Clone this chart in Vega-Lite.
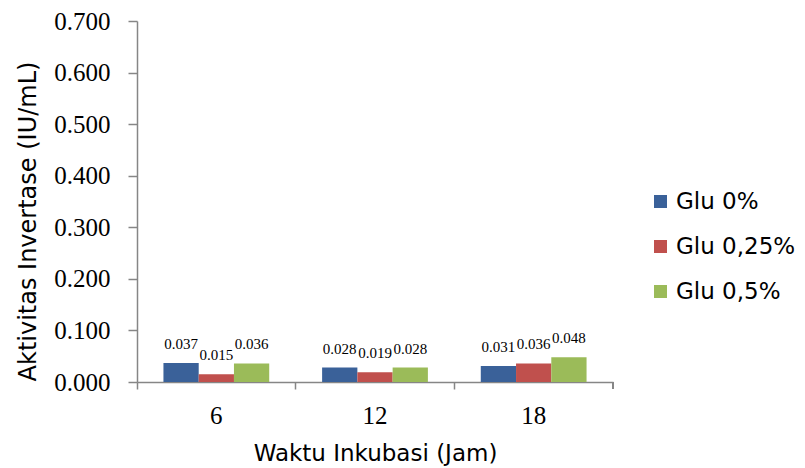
{
  "$schema": "https://vega.github.io/schema/vega-lite/v6.json",
  "width": 476,
  "height": 361,
  "autosize": {"type": "none"},
  "padding": {"left": 137, "top": 21, "right": 192, "bottom": 86},
  "background": "white",
  "config": {"view": {"stroke": null}},
  "data": {
    "values": [
      {"time": 6, "series": "Glu 0%", "value": 0.037},
      {"time": 6, "series": "Glu 0,25%", "value": 0.015},
      {"time": 6, "series": "Glu 0,5%", "value": 0.036},
      {"time": 12, "series": "Glu 0%", "value": 0.028},
      {"time": 12, "series": "Glu 0,25%", "value": 0.019},
      {"time": 12, "series": "Glu 0,5%", "value": 0.028},
      {"time": 18, "series": "Glu 0%", "value": 0.031},
      {"time": 18, "series": "Glu 0,25%", "value": 0.036},
      {"time": 18, "series": "Glu 0,5%", "value": 0.048}
    ]
  },
  "layer": [
    {
      "mark": {"type": "bar"},
      "encoding": {
        "x": {
          "field": "time", "type": "ordinal",
          "scale": {"paddingInner": 0, "paddingOuter": 0},
          "axis": {
            "title": "Waktu Inkubasi (Jam)",
            "titleFont": "DejaVu Sans", "titleFontSize": 23, "titleFontWeight": "normal", "titleColor": "black",
            "titleBaseline": "top", "titleY": 60,
            "labelAngle": 0, "labelFont": "Liberation Serif", "labelFontSize": 25, "labelColor": "black",
            "labelPadding": 14, "labelBaseline": "top",
            "bandPosition": 0, "tickSize": 7, "tickColor": "#868686", "tickWidth": 1.5,
            "domainColor": "#868686", "domainWidth": 1.5, "grid": false
          }
        },
        "xOffset": {
          "field": "series", "type": "nominal",
          "sort": ["Glu 0%", "Glu 0,25%", "Glu 0,5%"],
          "scale": {"paddingOuter": 0.75, "paddingInner": 0}
        },
        "y": {
          "field": "value", "type": "quantitative",
          "scale": {"domain": [0, 0.7], "nice": false},
          "axis": {
            "title": "Aktivitas Invertase (IU/mL)",
            "titleFont": "DejaVu Sans", "titleFontSize": 24, "titleFontWeight": "normal", "titleColor": "black",
            "titleX": -97, "titleY": 200, "titleAngle": -90, "titleBaseline": "bottom",
            "values": [0, 0.1, 0.2, 0.3, 0.4, 0.5, 0.6, 0.7], "format": ".3f",
            "labelFont": "Liberation Serif", "labelFontSize": 25, "labelColor": "black", "labelPadding": 18,
            "tickSize": 9, "tickColor": "#868686", "tickWidth": 1.5,
            "domainColor": "#868686", "domainWidth": 1.5, "grid": false
          }
        },
        "color": {
          "field": "series", "type": "nominal",
          "scale": {"domain": ["Glu 0%", "Glu 0,25%", "Glu 0,5%"], "range": ["#3A6199", "#C0504D", "#9BBB59"]},
          "legend": {
            "title": null, "orient": "none", "legendX": 512, "legendY": 169,
            "symbolType": "square", "symbolSize": 169, "symbolStrokeWidth": 0,
            "labelFont": "DejaVu Sans", "labelFontSize": 23, "labelColor": "black",
            "rowPadding": 21, "labelOffset": 4
          }
        }
      }
    },
    {
      "mark": {"type": "text", "font": "Liberation Serif", "fontSize": 15, "baseline": "alphabetic", "dy": -14, "color": "black"},
      "encoding": {
        "x": {"field": "time", "type": "ordinal", "bandPosition": 0},
        "xOffset": {
          "field": "series", "type": "nominal",
          "sort": ["Glu 0%", "Glu 0,25%", "Glu 0,5%"],
          "scale": {"paddingOuter": 0.75, "paddingInner": 0}
        },
        "y": {"field": "value", "type": "quantitative"},
        "text": {"field": "value", "type": "quantitative", "format": ".3f"}
      }
    },
    {
      "mark": {"type": "rule", "color": "#868686", "strokeWidth": 1.5},
      "encoding": {
        "x": {"datum": 18, "type": "ordinal", "bandPosition": 1, "axis": {
            "title": "Waktu Inkubasi (Jam)",
            "titleFont": "DejaVu Sans", "titleFontSize": 23, "titleFontWeight": "normal", "titleColor": "black",
            "titleBaseline": "top", "titleY": 60,
            "labelAngle": 0, "labelFont": "Liberation Serif", "labelFontSize": 25, "labelColor": "black",
            "labelPadding": 14, "labelBaseline": "top",
            "bandPosition": 0, "tickSize": 7, "tickColor": "#868686", "tickWidth": 1.5,
            "domainColor": "#868686", "domainWidth": 1.5, "grid": false
          }},
        "y": {"datum": 0, "type": "quantitative", "axis": {
            "title": "Aktivitas Invertase (IU/mL)",
            "titleFont": "DejaVu Sans", "titleFontSize": 24, "titleFontWeight": "normal", "titleColor": "black",
            "titleX": -97, "titleY": 200, "titleAngle": -90, "titleBaseline": "bottom",
            "values": [0, 0.1, 0.2, 0.3, 0.4, 0.5, 0.6, 0.7], "format": ".3f",
            "labelFont": "Liberation Serif", "labelFontSize": 25, "labelColor": "black", "labelPadding": 18,
            "tickSize": 9, "tickColor": "#868686", "tickWidth": 1.5,
            "domainColor": "#868686", "domainWidth": 1.5, "grid": false
          }},
        "y2": {"datum": -0.0135}
      }
    }
  ]
}
